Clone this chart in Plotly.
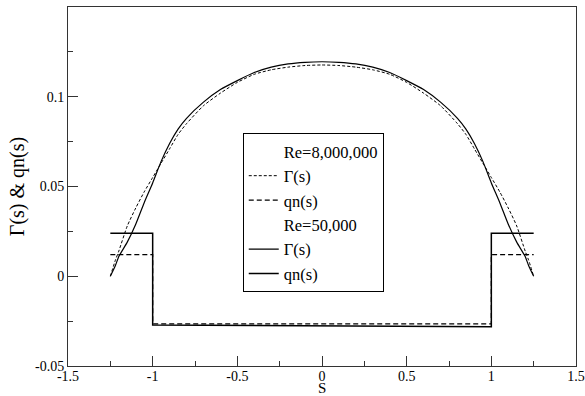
import plotly.graph_objects as go

# Spanwise coordinate for the circulation curves
s_gamma = [-1.25, -1.22, -1.2, -1.15, -1.1, -1.05, -1.0, -0.95, -0.9, -0.85, -0.8,
           -0.7, -0.6, -0.5, -0.4, -0.3, -0.2, -0.1, 0.0,
           0.1, 0.2, 0.3, 0.4, 0.5, 0.6, 0.7, 0.8, 0.85, 0.9, 0.95, 1.0,
           1.05, 1.1, 1.15, 1.2, 1.22, 1.25]

# Circulation Gamma(s), Re = 8,000,000
gamma_re8m = [0.0, 0.009, 0.014, 0.028, 0.038, 0.047, 0.055, 0.063, 0.071, 0.079, 0.085,
              0.095, 0.102, 0.108, 0.1125, 0.115, 0.1165, 0.1174, 0.1177,
              0.1174, 0.1165, 0.115, 0.1125, 0.108, 0.102, 0.095, 0.085, 0.079, 0.071, 0.063, 0.055,
              0.047, 0.038, 0.028, 0.014, 0.009, 0.0]

# Circulation Gamma(s), Re = 50,000
gamma_re50k = [0.0, 0.006, 0.011, 0.019, 0.029, 0.041, 0.052, 0.064, 0.074, 0.082, 0.088,
               0.097, 0.104, 0.109, 0.1135, 0.1165, 0.1183, 0.1192, 0.1195,
               0.1192, 0.1183, 0.1165, 0.1135, 0.109, 0.104, 0.097, 0.088, 0.082, 0.074, 0.064, 0.052,
               0.041, 0.029, 0.019, 0.011, 0.006, 0.0]

# Normal velocity qn(s): piecewise constant, jumps at s = -1 and s = 1
s_qn = [-1.25, -1.0, -1.0, 1.0, 1.0, 1.25]
qn_re8m = [0.012, 0.012, -0.0265, -0.0265, 0.012, 0.012]
qn_re50k = [0.024, 0.024, -0.0272, -0.0282, 0.024, 0.024]

x_ticks = [-1.5, -1, -0.5, 0, 0.5, 1, 1.5]
x_tick_text = ["-1.5", "-1", "-0.5", "0", "0.5", "1", "1.5"]
y_ticks = [-0.05, 0, 0.05, 0.1]
y_tick_text = ["-0.05", "0", "0.05", "0.1"]

SERIF = "Liberation Serif"
INK = "black"

fig = go.Figure()

# Legend header (no line sample)
fig.add_trace(go.Scatter(x=[None], y=[None], mode="lines", name="Re=8,000,000",
                         line=dict(color="rgba(0,0,0,0)", width=1)))
fig.add_trace(go.Scatter(x=s_gamma, y=gamma_re8m, mode="lines", name="Γ(s)",
                         line=dict(color=INK, width=1, dash="3px,2px", shape="spline",
                                   smoothing=0.6)))
fig.add_trace(go.Scatter(x=s_qn, y=qn_re8m, mode="lines", name="qn(s)",
                         line=dict(color=INK, width=1.2, dash="5px,3px")))
fig.add_trace(go.Scatter(x=[None], y=[None], mode="lines", name="Re=50,000",
                         line=dict(color="rgba(0,0,0,0)", width=1)))
fig.add_trace(go.Scatter(x=s_gamma, y=gamma_re50k, mode="lines", name="Γ(s)",
                         line=dict(color=INK, width=1.2, shape="spline", smoothing=0.6)))
fig.add_trace(go.Scatter(x=s_qn, y=qn_re50k, mode="lines", name="qn(s)",
                         line=dict(color=INK, width=1.5)))

axis_common = dict(
    showgrid=False, zeroline=False, automargin=False,
    showline=True, linecolor="#333", linewidth=1, mirror=True,
    ticks="inside", ticklen=10, tickcolor="#333", tickwidth=1,
    tickfont=dict(family=SERIF, size=14, color=INK),
)

fig.update_xaxes(range=[-1.5, 1.5], tickvals=x_ticks, ticktext=x_tick_text,
                 minor=dict(ticks="inside", ticklen=5, dtick=0.25, tickcolor="#333"),
                 ticklabelstandoff=-3,
                 **axis_common)
fig.update_yaxes(range=[-0.05, 0.15], tickvals=y_ticks, ticktext=y_tick_text,
                 minor=dict(ticks="inside", ticklen=5, dtick=0.025, tickcolor="#333"),
                 title=dict(text="Γ(s) & qn(s)", font=dict(family=SERIF, size=20, color=INK),
                            standoff=5),
                 **axis_common)

# x-axis title sits just under the tick labels
fig.add_annotation(text="S", xref="paper", yref="paper", x=0.5, y=0,
                   xanchor="center", yanchor="top", yshift=-13, showarrow=False,
                   borderpad=0, font=dict(family=SERIF, size=15, color=INK))

fig.update_layout(
    width=585, height=396,
    margin=dict(l=68, r=9, t=7, b=30),
    paper_bgcolor="white", plot_bgcolor="white",
    showlegend=True,
    legend=dict(x=0.344, y=0.649, xanchor="left", yanchor="top",
                bgcolor="white", bordercolor=INK, borderwidth=1,
                font=dict(family=SERIF, size=16.5, color=INK),
                tracegroupgap=0, itemwidth=30),
)

fig.write_html("out.html")
